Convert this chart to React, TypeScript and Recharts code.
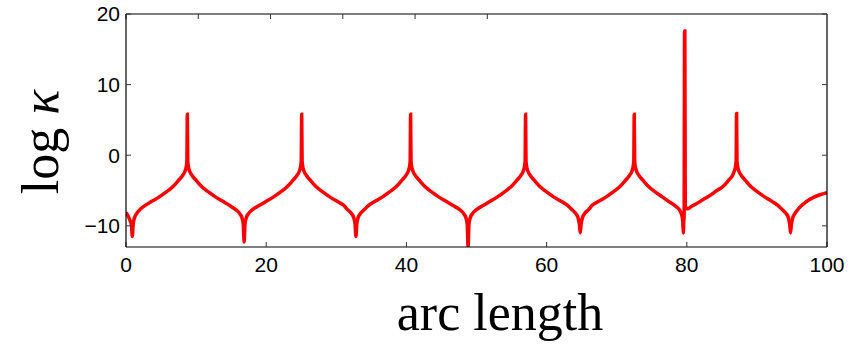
import React from "react";
import { LineChart, Line, XAxis, YAxis } from "recharts";

// arc length samples and the matching log kappa values
const arcLength = [
  0, 0.3, 0.6, 0.78, 0.9,
  1.02, 1.2, 1.5, 2.1, 2.75, 3.75, 4.75, 5.75, 6.75, 7.55, 8.05, 8.4, 8.6, 8.69, 8.75,
  8.81, 8.9, 9.1, 9.45, 9.95, 10.75, 11.75, 12.75, 13.75, 14.75, 15.65, 16.25, 16.55, 16.73, 16.85,
  16.97, 17.15, 17.45, 18.05, 19.06, 20.06, 21.06, 22.06, 23.06, 23.86, 24.36, 24.71, 24.91, 25.0, 25.06,
  25.12, 25.21, 25.41, 25.76, 26.26, 27.06, 28.06, 29.06, 30.06, 31.06, 31.6, 32.2, 32.5, 32.68, 32.8,
  32.92, 33.1, 33.4, 34.0, 34.6, 35.6, 36.6, 37.6, 38.6, 39.4, 39.9, 40.25, 40.45, 40.54, 40.6,
  40.66, 40.75, 40.95, 41.3, 41.8, 42.6, 43.6, 44.6, 45.6, 46.6, 47.6, 48.2, 48.5, 48.68, 48.8,
  48.92, 49.1, 49.4, 50.0, 51.0, 52.0, 53.0, 54.0, 55.0, 55.8, 56.3, 56.65, 56.85, 56.94, 57.0,
  57.06, 57.15, 57.35, 57.7, 58.2, 59.0, 60.0, 61.0, 62.0, 63.0, 63.6, 64.2, 64.5, 64.68, 64.8,
  64.92, 65.1, 65.4, 66.0, 66.5, 67.5, 68.5, 69.5, 70.5, 71.3, 71.8, 72.15, 72.35, 72.44, 72.5,
  72.56, 72.65, 72.85, 73.2, 73.7, 74.5, 75.5, 76.5, 77.5, 78.5, 79.1, 79.35, 79.45, 79.5, 79.56, 79.62, 79.68, 79.72,
  79.78, 80.1, 80.6, 81.3, 82.3, 83.3, 84.3, 85.2, 86.0, 86.5, 86.75, 86.95, 87.04, 87.1,
  87.16, 87.25, 87.45, 87.8, 88.3, 89.1, 90.1, 91.1, 92.1, 93.0, 93.6, 94.2, 94.5, 94.68, 94.8,
  94.92, 95.1, 95.4, 96.0, 97.0, 98.0, 99.0, 100,
];

const logKappa = [
  -8.1, -8.6, -9.3, -9.9, -11.5,
  -9.8, -8.9, -8.3, -7.6, -7.1, -6.5, -5.9, -5.2, -4.4, -3.5, -2.9, -2.3, -1.6, -0.8, 5.8,
  -0.8, -1.6, -2.3, -2.9, -3.5, -4.4, -5.2, -5.9, -6.5, -7.1, -7.7, -8.3, -8.9, -9.8, -12.3,
  -9.8, -8.9, -8.3, -7.7, -7.1, -6.5, -5.9, -5.2, -4.4, -3.5, -2.9, -2.3, -1.6, -0.8, 5.8,
  -0.8, -1.6, -2.3, -2.9, -3.5, -4.4, -5.2, -5.9, -6.5, -7.1, -7.7, -8.3, -8.9, -9.8, -11.5,
  -9.8, -8.9, -8.3, -7.7, -7.1, -6.5, -5.9, -5.2, -4.4, -3.5, -2.9, -2.3, -1.6, -0.8, 5.8,
  -0.8, -1.6, -2.3, -2.9, -3.5, -4.4, -5.2, -5.9, -6.5, -7.1, -7.7, -8.3, -8.9, -9.8, -13,
  -9.8, -8.9, -8.3, -7.7, -7.1, -6.5, -5.9, -5.2, -4.4, -3.5, -2.9, -2.3, -1.6, -0.8, 5.8,
  -0.8, -1.6, -2.3, -2.9, -3.5, -4.4, -5.2, -5.9, -6.5, -7.1, -7.7, -8.3, -8.9, -9.8, -11.0,
  -9.8, -8.9, -8.3, -7.7, -7.1, -6.5, -5.9, -5.2, -4.4, -3.5, -2.9, -2.3, -1.6, -0.8, 5.8,
  -0.8, -1.6, -2.3, -2.9, -3.5, -4.4, -5.2, -5.9, -6.6, -7.3, -8.0, -8.8, -9.8, -11.0, -9.5, -8.5, 17.6, 17.6,
  -7.2, -7.6, -7.3, -6.9, -6.3, -5.7, -5.0, -4.4, -3.5, -2.9, -2.3, -1.6, -0.8, 5.9,
  -0.8, -1.6, -2.3, -2.9, -3.5, -4.4, -5.2, -5.9, -6.5, -7.1, -7.7, -8.3, -8.9, -9.8, -11.0,
  -9.8, -8.9, -8.3, -7.5, -6.6, -6.0, -5.6, -5.3,
];

const xTicks = [0, 20, 40, 60, 80, 100];
const yTicks = [-10, 0, 10, 20];

const data = arcLength.map((s, i) => ({ s, k: logKappa[i] }));

const tickFont = { fontSize: 21, fill: "#000", fontFamily: "Liberation Sans, Arial, sans-serif" };
const fmtY = (v: number) => (v < 0 ? "\u2212" + Math.abs(v) : String(v));

export default function App() {
  return (
    <div style={{ position: "absolute", left: 0, top: 0, width: 855, height: 345, background: "#fff" }}>
      <LineChart width={855} height={345} data={data} margin={{ top: 0, right: 0, bottom: 0, left: 0 }}>
        <XAxis
          xAxisId="b"
          dataKey="s"
          type="number"
          domain={[0, 100]}
          ticks={xTicks}
          allowDataOverflow
          height={98}
          tickSize={-5}
          tickMargin={15}
          fontSize={21}
          tick={tickFont}
          axisLine={{ stroke: "#000", strokeWidth: 1.2 }}
          tickLine={{ stroke: "#333" }}
        />
        <XAxis
          xAxisId="t"
          orientation="top"
          type="number"
          domain={[0, 100]}
          ticks={xTicks}
          allowDataOverflow
          height={14}
          tickSize={-5}
          tickFormatter={() => ""}
          axisLine={{ stroke: "#000", strokeWidth: 1.2 }}
          tickLine={{ stroke: "#333" }}
        />
        <YAxis
          yAxisId="l"
          type="number"
          domain={[-13, 20]}
          ticks={yTicks}
          allowDataOverflow
          width={126}
          tickSize={-5}
          tickMargin={11}
          fontSize={21}
          tick={tickFont}
          tickFormatter={fmtY}
          axisLine={{ stroke: "#000", strokeWidth: 1.2 }}
          tickLine={{ stroke: "#333" }}
        />
        <YAxis
          yAxisId="r"
          orientation="right"
          type="number"
          domain={[-13, 20]}
          ticks={yTicks}
          allowDataOverflow
          width={28}
          tickSize={-5}
          tickFormatter={() => ""}
          axisLine={{ stroke: "#000", strokeWidth: 1.2 }}
          tickLine={{ stroke: "#333" }}
        />
        <Line
          xAxisId="b"
          yAxisId="l"
          dataKey="k"
          type="monotoneX"
          stroke="#ff0000"
          strokeWidth={3.5}
          dot={false}
          isAnimationActive={false}
        />
      </LineChart>
      <svg width={855} height={345} style={{ position: "absolute", left: 0, top: 0, pointerEvents: "none" }}>
        <text x={500} y={330} textAnchor="middle" fontSize={52} fontFamily="Liberation Serif, Times New Roman, serif">
          arc length
        </text>
        <text
          x={58}
          y={142}
          textAnchor="middle"
          fontSize={52}
          fontFamily="Liberation Serif, Times New Roman, serif"
          transform="rotate(-90 58 142)"
        >
          log <tspan fontStyle="italic">κ</tspan>
        </text>
      </svg>
    </div>
  );
}
